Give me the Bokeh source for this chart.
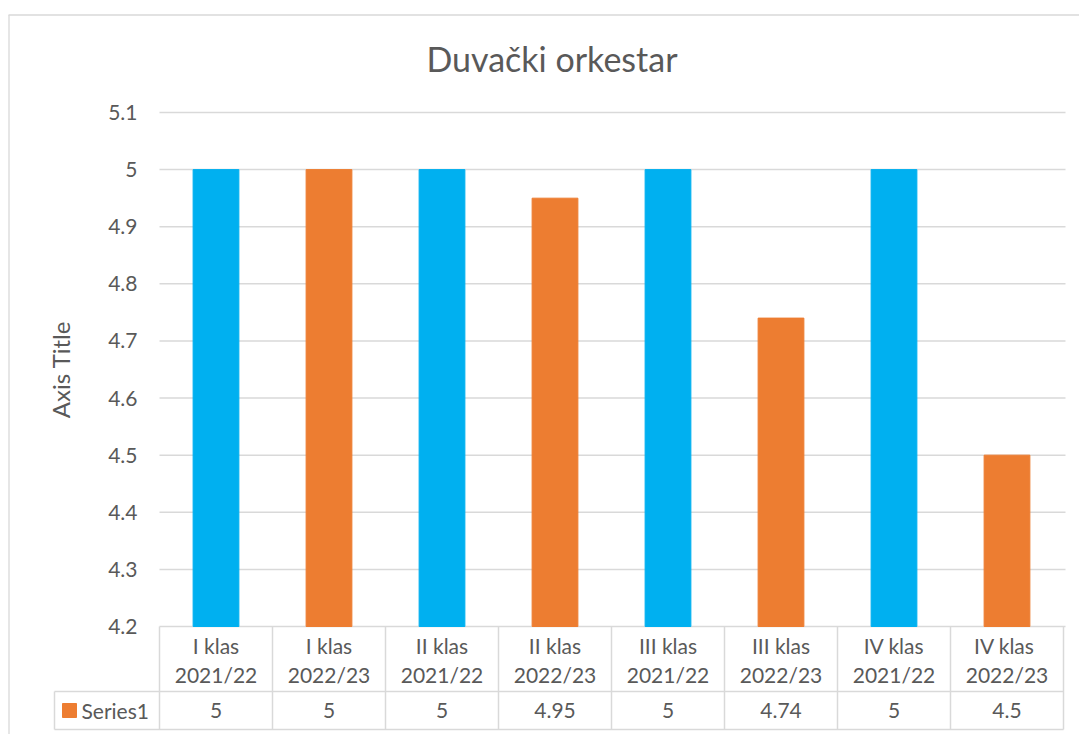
import math
from bokeh.plotting import figure
from bokeh.models import Range1d, ColumnDataSource
from bokeh.core.properties import value
from bokeh.embed import file_html
from bokeh.resources import INLINE

# ---------------- data ----------------
title_text = "Duvački orkestar"
axis_title = "Axis Title"
series_name = "Series1"
class_labels = ["I klas", "I klas", "II klas", "II klas", "III klas", "III klas", "IV klas", "IV  klas"]
year_labels = ["2021/22", "2022/23", "2021/22", "2022/23", "2021/22", "2022/23", "2021/22", "2022/23"]
values = [5, 5, 5, 4.95, 5, 4.74, 5, 4.5]
bar_colors = ["#00B0F0", "#ED7D31", "#00B0F0", "#ED7D31", "#00B0F0", "#ED7D31", "#00B0F0", "#ED7D31"]
legend_color = "#ED7D31"
y_ticks = [4.2, 4.3, 4.4, 4.5, 4.6, 4.7, 4.8, 4.9, 5.0, 5.1]
y_base = 4.2

# ---------------- layout helpers (page pixels -> data) ----------------
W, H = 1079, 734
PAGE = 0
CAT_W = 113.0
CAT0 = 215.5          # page x of first category centre
Y_PX_PER_UNIT = 571.1
Y_BASE_PX = 626.0     # page y of y_base


def px_x(px):
    return (px - CAT0) / CAT_W


def px_y(py):
    return y_base + (Y_BASE_PX - py) / Y_PX_PER_UNIT


TEXT = "#595959"
GRID = "#D9D9D9"
FONT = value("Lato")

p = figure(width=W, height=H, output_backend="svg", toolbar_location=None,
           x_range=Range1d(px_x(PAGE), px_x(PAGE + W)),
           y_range=Range1d(px_y(PAGE + H), px_y(PAGE)),
           x_axis_location=None, y_axis_location=None,
           min_border=0, outline_line_color=None,
           background_fill_color="white", border_fill_color="white")
p.grid.visible = False

n = len(values)
xs = list(range(n))

# outer chart border (left + top)
p.segment(x0=[px_x(8.5), px_x(8)], y0=[px_y(14.5), px_y(14.5)],
          x1=[px_x(8.5), px_x(PAGE + W)], y1=[px_y(PAGE + H), px_y(14.5)],
          line_color=GRID, line_width=1.3)

# gridlines
grid_right = n - 0.5 + (1065 - (CAT0 + (n - 0.5) * CAT_W)) / CAT_W
p.segment(x0=[-0.5] * len(y_ticks), x1=[grid_right] * len(y_ticks),
          y0=y_ticks, y1=y_ticks, line_color=GRID, line_width=1.5)

# bars
src = ColumnDataSource(dict(x=xs, top=values, color=bar_colors))
p.vbar(x="x", top="top", bottom=y_base, width=0.405, color="color", source=src)

# y tick labels
p.text(x=[px_x(137)] * len(y_ticks), y=y_ticks, text=[f"{t:g}" for t in y_ticks],
       text_align="right", text_baseline="middle", text_color=TEXT,
       text_font=FONT, text_font_size="21px")

# data table lines
row1_y = px_y(691)
row2_y = px_y(729)
left_x = px_x(54)
p.segment(x0=[left_x, left_x], x1=[n - 0.5, n - 0.5], y0=[row1_y, row2_y], y1=[row1_y, row2_y],
          line_color=GRID, line_width=1.5)
bx = [i - 0.5 for i in range(n + 1)]
p.segment(x0=bx, x1=bx, y0=[y_base] * len(bx), y1=[row2_y] * len(bx),
          line_color=GRID, line_width=1.5)
p.segment(x0=[left_x], x1=[left_x], y0=[row1_y], y1=[row2_y], line_color=GRID, line_width=1.5)

# category labels (two lines)
p.text(x=xs, y=[px_y(645)] * n, text=class_labels, text_align="center", text_baseline="middle",
       text_color=TEXT, text_font=FONT, text_font_size="21px")
p.text(x=xs, y=[px_y(674)] * n, text=year_labels, text_align="center", text_baseline="middle",
       text_color=TEXT, text_font=FONT, text_font_size="21px")

# values row
p.text(x=xs, y=[px_y(710)] * n, text=[f"{v:g}" for v in values], text_align="center",
       text_baseline="middle", text_color=TEXT, text_font=FONT, text_font_size="21px")

# legend key + series name
p.scatter(x=[px_x(69)], y=[px_y(710)], marker="square", size=14, color=legend_color)
p.text(x=[px_x(81)], y=[px_y(710)], text=[series_name], text_align="left", text_baseline="middle",
       text_color=TEXT, text_font=FONT, text_font_size="21px")

# axis title
p.text(x=[px_x(60)], y=[px_y(369)], text=[axis_title], angle=math.pi / 2, text_align="center",
       text_baseline="middle", text_color=TEXT, text_font=FONT, text_font_size="24px")

# chart title
p.text(x=[px_x(551.5)], y=[px_y(58)], text=[title_text], text_align="center", text_baseline="middle",
       text_color=TEXT, text_font=FONT, text_font_size="34px")

open("out.html", "w").write(file_html(p, INLINE))
